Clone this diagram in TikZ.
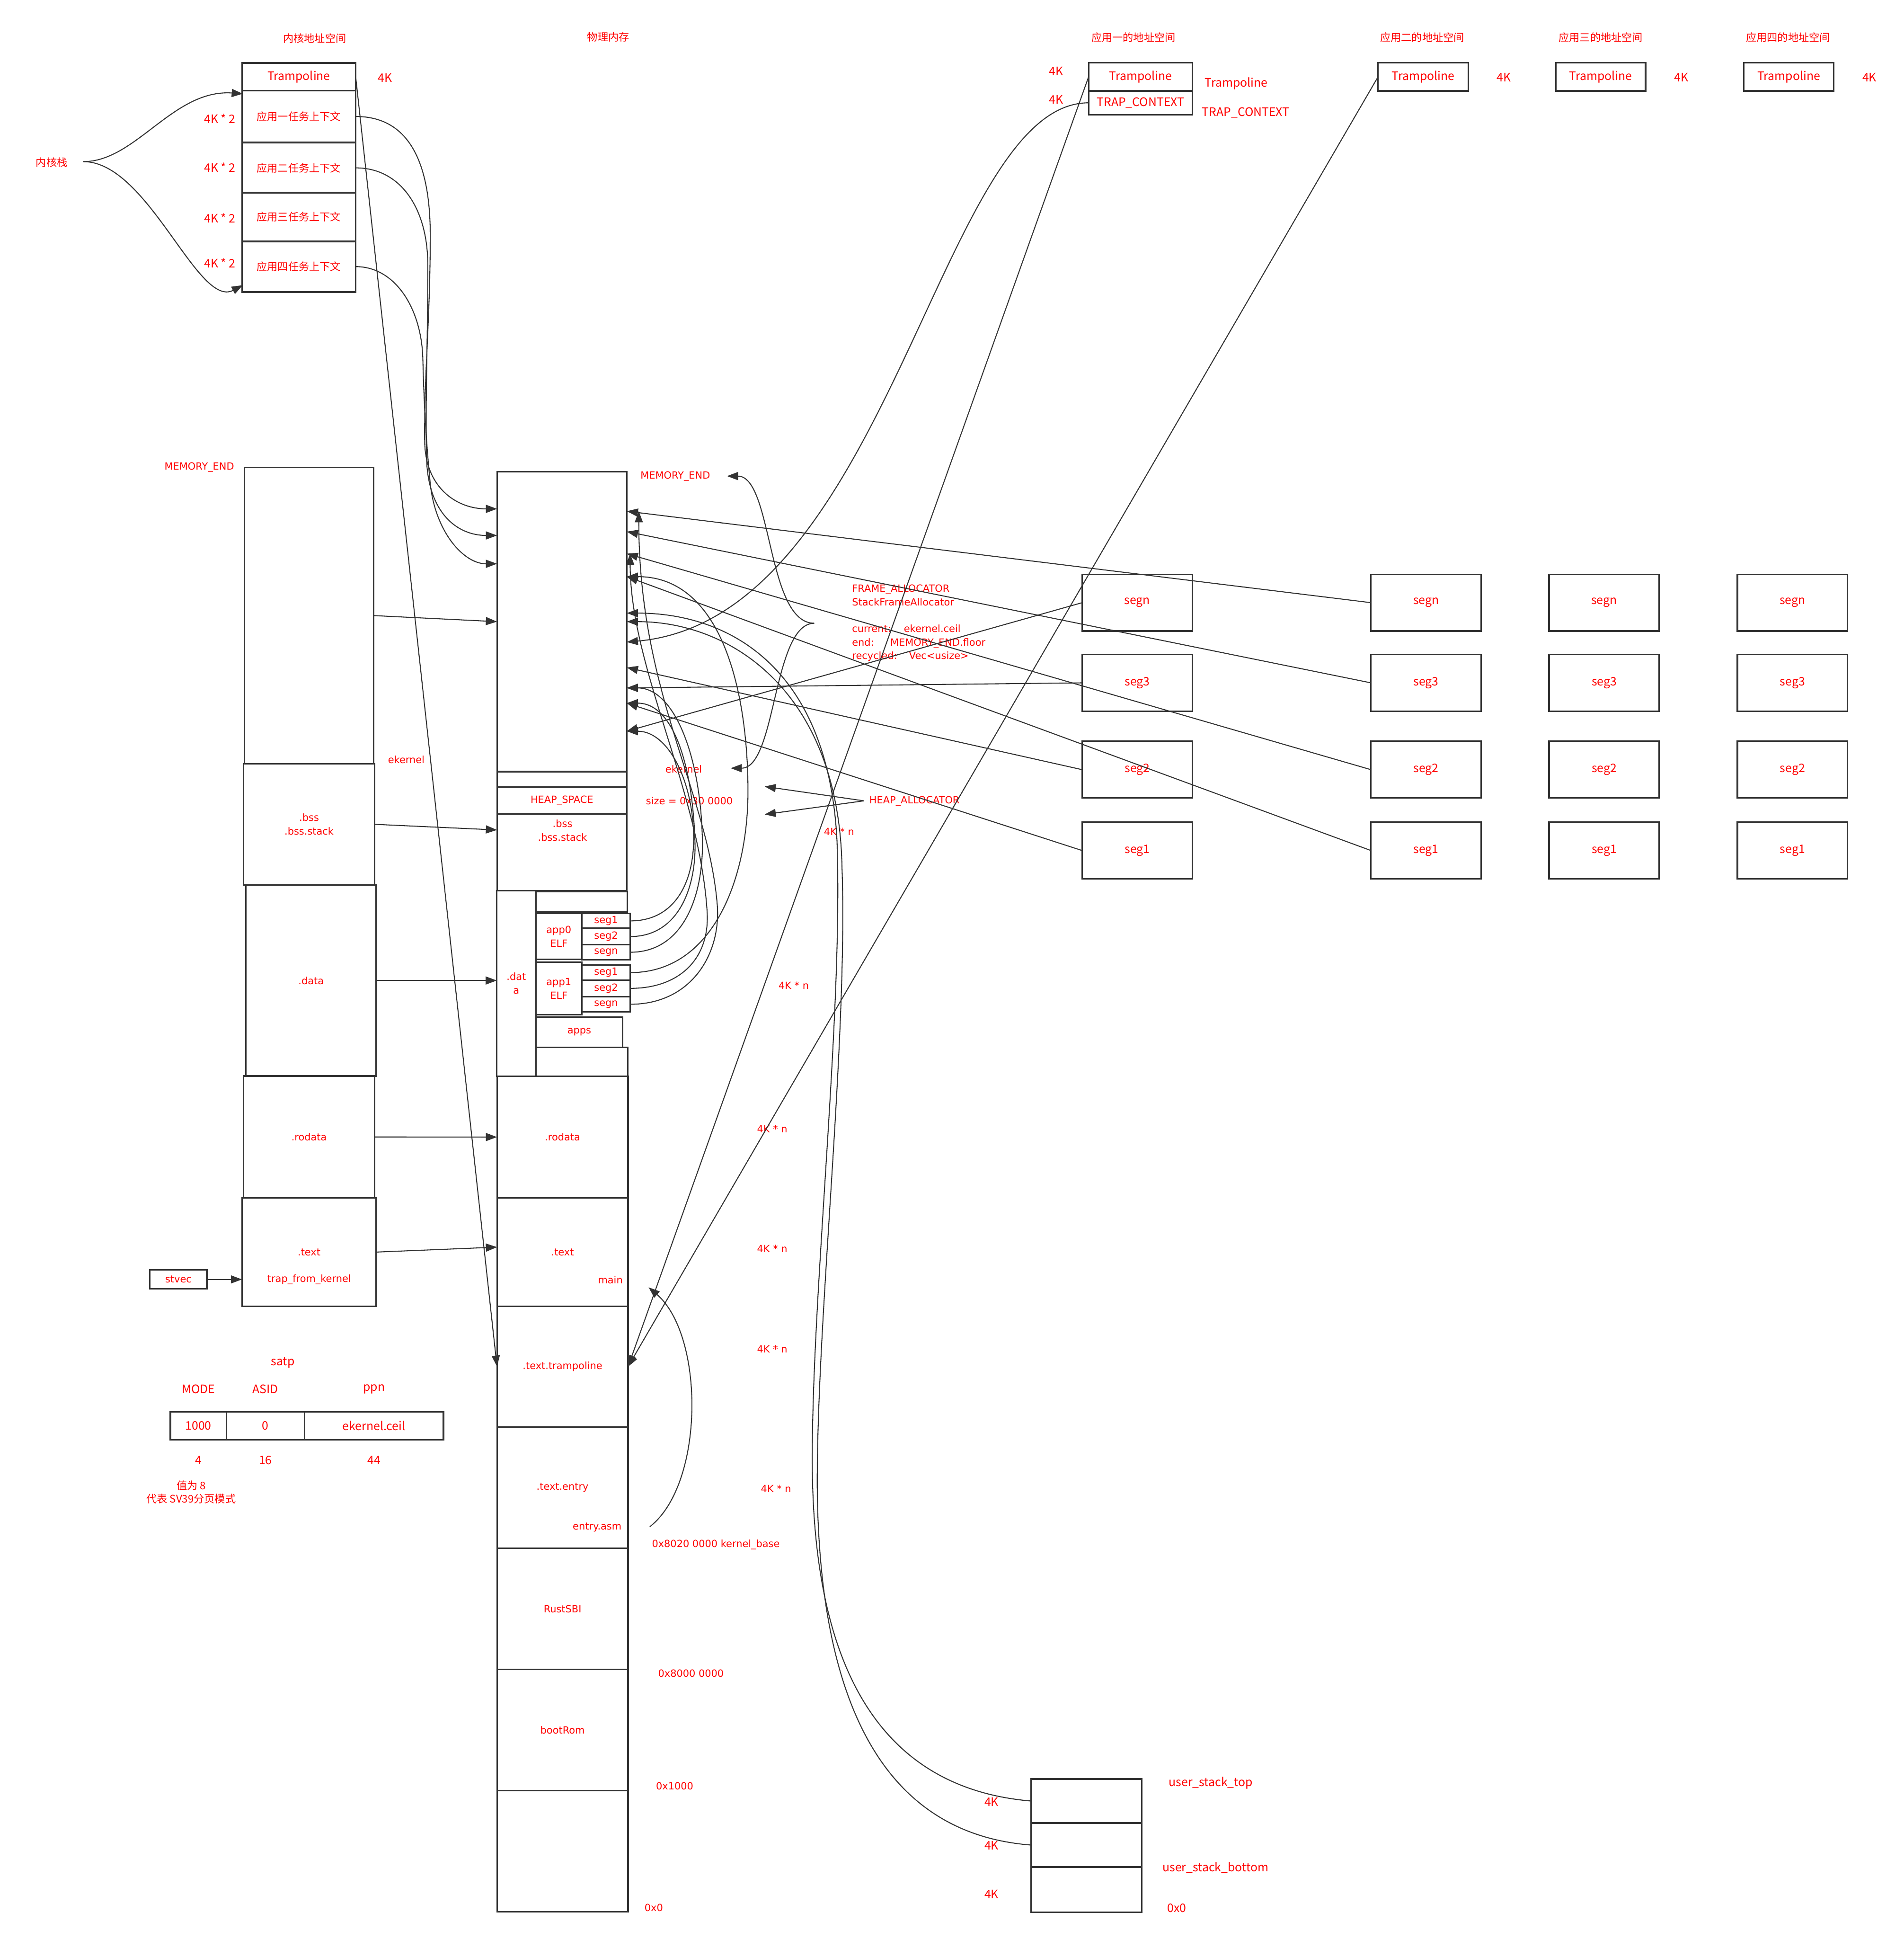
\documentclass[tikz,border=0pt]{standalone}
\usepackage{fontspec}
\setmainfont{Noto Sans CJK SC}
\newfontfamily\widefont{DejaVu Sans}
\usetikzlibrary{arrows.meta,calc}
\definecolor{linegray}{HTML}{333333}
\tikzset{
  mem/.style={draw=linegray,line width=1.2pt,inner sep=0pt,outer sep=0pt,align=center},
  wtxt/.style={text=red,font=\widefont\fontsize{8}{11}\selectfont,inner sep=0pt,align=center},
  ntxt/.style={text=red,font=\fontsize{9.5}{11}\selectfont,inner sep=0pt,align=center},
  ctxt/.style={text=red,font=\fontsize{8.5}{10.7}\selectfont,inner sep=0pt,align=center},
  con/.style={draw=linegray,line width=0.8pt,->},
}
\begin{document}
\begin{tikzpicture}[x=1pt,y=-1pt,>={Triangle[length=9pt,width=6.5pt]}]
  \useasboundingbox (0,0) rectangle (1540,1568);

  \node[ctxt] (ktitle) at (254.5,30.9) {内核地址空间};
  \node[ctxt] (ptitle) at (492,30) {物理内存};
  \node[mem,ntxt,minimum width=92pt,minimum height=22.5pt] (ktramp) at (241.7,62.15) {Trampoline};
  \node[ntxt] (ktrampsz) at (311.5,62.9) {4K};
  \foreach \n/\y/\h/\ly/\cnum in {1/94.2/41.6/95.9/一,2/135.75/40.5/135.5/二,3/175.5/39.5/176.2/三,4/215.6/41.2/212.7/四}{
    \node[mem,ctxt,minimum width=92pt,minimum height=\h pt] (kctx\n) at (241.7,\y) {应用\cnum{}任务上下文};
    \node[ntxt] (kctxsz\n) at (177.8,\ly) {4K * 2};
  }
  \node[ctxt] (kstack) at (41.8,131.5) {内核栈};
  \coordinate (kfork) at (67.4,130.7);

  \foreach \c/\x/\w/\tx/\cnum in {1/922.5/84/916.8/一,2/1151.15/73.1/1150.4/二,3/1294.75/72.5/1294.8/三,4/1446.9/72.6/1446.3/四}{
    \node[mem,ntxt,minimum width=\w pt,minimum height=22.7pt] (utramp\c) at (\x,62.15) {Trampoline};
    \node[ctxt] (utitle\c) at (\tx,30.4) {应用\cnum{}的地址空间};
  }
  \foreach \c in {2,3,4}
    \node[ntxt] (utrampsz\c) at ($(utramp\c)+(65.2,0.5)$) {4K};
  \node[mem,ntxt,minimum width=84pt,minimum height=19.3pt] (utrap1) at (922.5,83.15) {TRAP\_CONTEXT};
  \node[ntxt] (utrampsz1) at (854.2,57.4) {4K};
  \node[ntxt] (utrapsz1) at (854.2,80.6) {4K};
  \node[ntxt] (utrampname) at (999.9,67.6) {Trampoline};
  \node[ntxt] (utrapname) at (1007.6,91.1) {TRAP\_CONTEXT};

  \foreach \c/\x in {1/919.85,2/1153.45,3/1297.5,4/1449.85}
    \foreach \s/\y in {n/487.35,3/552.2,2/622.4,1/687.8}
      \node[mem,ntxt,minimum width=89.1pt,minimum height=45.9pt] (u\c-seg\s) at (\x,\y) {seg\s};

  \node[mem,minimum width=105pt,minimum height=242.6pt] (pmfree) at (454.5,502.7) {};
  \node[mem,minimum width=105pt,minimum height=12.4pt] (pmstrip) at (454.5,630.2) {};
  \node[mem,wtxt,minimum width=105pt,minimum height=21.8pt] (pmheap) at (454.5,647.3) {HEAP\_SPACE};
  \node[mem,minimum width=105pt,minimum height=61.9pt] (pmbss) at (454.5,689.15) {};
  \node[wtxt] (pmbsstxt) at (455,671.5) {.bss\\.bss.stack};
  \node[mem,wtxt,minimum width=31.6pt,minimum height=150.2pt] (pmdata) at (417.6,795.2) {.dat\\a};
  \node[mem,minimum width=74pt,minimum height=16.3pt] (pmdtop) at (470.4,729.2) {};
  \node[mem,wtxt,minimum width=37.2pt,minimum height=37.2pt] (elf0) at (452,757.3) {app0\\ELF};
  \node[mem,wtxt,minimum width=37.2pt,minimum height=42.5pt] (elf1) at (452,799.35) {app1\\ELF};
  \foreach \a/\s/\y/\h in {0/1/744.7/12,0/2/757.35/13.3,0/n/770.05/12.1,1/1/786.5/12,1/2/799.25/13.5,1/n/812.1/12.2}
    \node[mem,wtxt,minimum width=39.2pt,minimum height=\h pt] (elf\a-seg\s) at (490.2,\y) {seg\s};
  \node[mem,wtxt,minimum width=70.3pt,minimum height=24.6pt] (apps) at (468.55,834.6) {apps};
  \node[mem,minimum width=74.4pt,minimum height=23.4pt] (pmdbot) at (470.6,858.6) {};
  \foreach \n/\y/\h/\txt in {rodata/919.5/98.4/.rodata,text/1012.5/87.6/.text,tramp/1105.15/97.7/.text.trampoline,entry/1203/98/.text.entry,sbi/1301/98/RustSBI,rom/1399/98/bootRom,low/1497/98/{}}
    \node[mem,wtxt,minimum width=106pt,minimum height=\h pt] (pm\n) at (455,\y) {\txt};
  \node[wtxt] (pmmain) at (493.7,1035) {main};
  \node[wtxt] (pmentryasm) at (483,1235) {entry.asm};

  \node[mem,minimum width=104.7pt,minimum height=239.4pt] (kfree) at (250,497.8) {};
  \node[mem,wtxt,minimum width=106pt,minimum height=98.2pt] (kbss) at (250,666.6) {.bss\\.bss.stack};
  \node[mem,wtxt,minimum width=105.4pt,minimum height=154.4pt] (kdata) at (251.6,792.9) {.data};
  \node[mem,wtxt,minimum width=106pt,minimum height=98.6pt] (krodata) at (250,919.4) {.rodata};
  \node[mem,wtxt,minimum width=108.5pt,minimum height=87.7pt] (ktext) at (250,1012.5) {.text};
  \node[wtxt] (ktfk) at (250.1,1034.6) {trap\_from\_kernel};
  \node[mem,wtxt,minimum width=46pt,minimum height=15.4pt] (stvec) at (144.3,1034.6) {stvec};
  \node[wtxt] (kmemend) at (161.2,378.1) {MEMORY\_END};
  \node[wtxt] (kekernel) at (328.6,614.4) {ekernel};

  \node[ntxt] (satp) at (228.8,1101.8) {satp};
  \foreach \n/\x/\w/\f/\v/\b in {mode/160.45/45.3/MODE/1000/4,asid/214.7/63.2/ASID/0/16,ppn/302.5/112.4/ppn/ekernel.ceil/44}{
    \node[mem,ntxt,minimum width=\w pt,minimum height=22.4pt] (s\n) at (\x,1153) {\v};
    \node[ntxt] (s\n-head) at (\x,1123.3) {\f};
    \node[ntxt] (s\n-bits) at (\x,1180.7) {\b};
  }
  \node[ctxt] (smodenote) at (154.6,1206.5) {值为 8\\代表 SV39分页模式};

  \node[wtxt] (pmmemend) at (546.2,385) {MEMORY\_END};
  \node[wtxt,align=left,anchor=west] (fatxt) at (689,503.8) {FRAME\_ALLOCATOR\\StackFrameAllocator\\[10.6pt]\makebox[41.9pt][l]{current:}ekernel.ceil\\\makebox[30.9pt][l]{end:}MEMORY\_END.floor\\\makebox[46.1pt][l]{recycled:}Vec<usize>};
  \node[wtxt] (pmekernel) at (553,622) {ekernel};
  \node[wtxt] (heapsize) at (557.6,647.6) {size = 0x30 0000};
  \node[wtxt,anchor=west] (heapalloc) at (703,647.6) {HEAP\_ALLOCATOR};
  \foreach \x/\y [count=\i] in {678.7/672.4,642/797,624.6/913,624.6/1009.8,624.6/1091,627.7/1203.8}
    \node[wtxt] (pgsz\i) at (\x,\y) {4K * n};
  \node[wtxt] (kbase) at (579,1249) {0x8020 0000 kernel\_base};
  \node[wtxt] (sbibase) at (558.9,1353) {0x8000 0000};
  \node[wtxt] (rombase) at (545.7,1444.4) {0x1000};
  \node[wtxt] (pmzero) at (528.8,1542.6) {0x0};

  \foreach \i/\y/\h/\ly in {1/1456.4/35.6/1457.2,2/1492/35.6/1492.4,3/1528/36.5/1531.9}{
    \node[mem,minimum width=89.7pt,minimum height=\h pt] (ustk\i) at (878.75,\y) {};
    \node[ntxt] (ustksz\i) at (802,\ly) {4K};
  }
  \node[ntxt] (ustktop) at (979.4,1441.9) {user\_stack\_top};
  \node[ntxt] (ustkbot) at (983.2,1510.4) {user\_stack\_bottom};
  \node[ntxt] (ustkzero) at (951.8,1543) {0x0};

  \draw[con] (kfork) .. controls (110,130.7) and (140,72) .. ($(kctx1.north west)+(0.7,2.4)$);
  \draw[con] (kfork) .. controls (120,130.7) and (160,250) .. ($(kctx4.south west)+(0.7,-5.6)$);
  \draw[con] (ktramp.east) -- (pmtramp.west);
  \draw[con] (kctx1.east) .. controls (330,94.2) and (348,130) .. (348,190) .. controls (348,260) and (343,300) .. (343.5,357) .. controls (344,395) and (370,411.5) .. ($(pmfree.north west)+(0,30.1)$);
  \draw[con] (kctx2.east) .. controls (325,135.75) and (346,170) .. (346,214) .. controls (346,280) and (344,320) .. (345,370) .. controls (346,415) and (370,433) .. ($(pmfree.north west)+(0,51.6)$);
  \draw[con] (kctx4.east) .. controls (320,215.6) and (341,250) .. (342,290) .. controls (343,330) and (345,360) .. (348,391) .. controls (352,430) and (375,456) .. ($(pmfree.north west)+(0,74.5)$);

  \draw[con] (kfree.east) -- (pmfree.west);
  \draw[con] (kbss.east) -- ($(pmbss.west)+(0,-18)$);
  \draw[con] (kdata.east) -- (kdata.east -| pmdata.west);
  \draw[con] (krodata.east) -- (pmrodata.west);
  \draw[con] (ktext.east) -- ($(pmtext.west)+(0,-4)$);
  \draw[con] (stvec.east) -- (stvec.east -| ktext.west);

  \foreach \c/\s/\d in {2/n/32,2/3/48.5,2/2/66.3,2/1/84.9,1/n/209.9,1/3/174.9,1/2/158.4,1/1/187.2}
    \draw[con] (u\c-seg\s.west) -- ($(pmfree.north east)+(0,\d)$);
  \draw[con] (utramp1.west) -- (pmtramp.east);
  \draw[con] (utramp2.west) -- (pmtramp.east);
  \draw[con] (utrap1.west) .. controls (760,83) and (720,500) .. ($(pmfree.north east)+(0,137.8)$);

  \draw[con] (elf0-seg1.east) .. controls (548,744.7) and (562,710) .. (561,675) .. controls (560,630) and (540,591.3) .. ($(pmfree.north east)+(0,209.9)$);
  \draw[con] (elf0-seg2.east) .. controls (550,757.35) and (564,715) .. (562,678) .. controls (560,620) and (545,568.6) .. ($(pmfree.north east)+(0,187.2)$);
  \draw[con] (elf0-segn.east) .. controls (555,770) and (570,720) .. (568,675) .. controls (566,610) and (545,556.3) .. ($(pmfree.north east)+(0,174.9)$);
  \draw[con] (elf1-seg1.east) .. controls (578,786.5) and (605,708) .. (605,640) .. controls (605,562) and (585,466.3) .. ($(pmfree.north east)+(0,84.9)$);
  \draw[con] (elf1-seg2.east) .. controls (550,799.25) and (574,775) .. (572,738) .. controls (566,640) and (509.7,540) .. ($(pmfree.north east)+(2.7,66.3)$);
  \draw[con] (elf1-segn.east) .. controls (560,812.1) and (584,770) .. (580,730) .. controls (572,640) and (516.7,560) .. ($(pmfree.north east)+(9.7,32)$);

  \draw[con] (ustk1.west) .. controls (700,1445) and (657,1330) .. (657,1180) .. controls (657,1040) and (682,820) .. (677,680) .. controls (670,540) and (590,495.8) .. ($(pmfree.north east)+(0,114.4)$);
  \draw[con] (ustk2.west) .. controls (705,1482) and (662,1360) .. (661,1200) .. controls (661,1060) and (686,840) .. (681,700) .. controls (678,560) and (592,502.7) .. ($(pmfree.north east)+(0,121.3)$);

  \coordinate (fafork) at (658.6,504);
  \coordinate (fatop) at (588,385);
  \coordinate (fabot) at (591,621.2);
  \draw[con] (fafork) .. controls (620,504) and (625,385) .. (fatop);
  \draw[con] (fafork) .. controls (625,504) and (628,621.2) .. (fabot);
  \coordinate (hafork) at (698.8,647.6);
  \coordinate (hatop) at (618.5,636);
  \coordinate (habot) at (618.5,658.6);
  \draw[con] (hafork) -- (hatop);
  \draw[con] (hafork) -- (habot);
  \coordinate (entryout) at (525.6,1234.6);
  \coordinate (mainin) at (524.6,1041);
  \draw[con] (entryout) .. controls (570,1200) and (570,1080) .. (mainin);
\end{tikzpicture}
\end{document}
